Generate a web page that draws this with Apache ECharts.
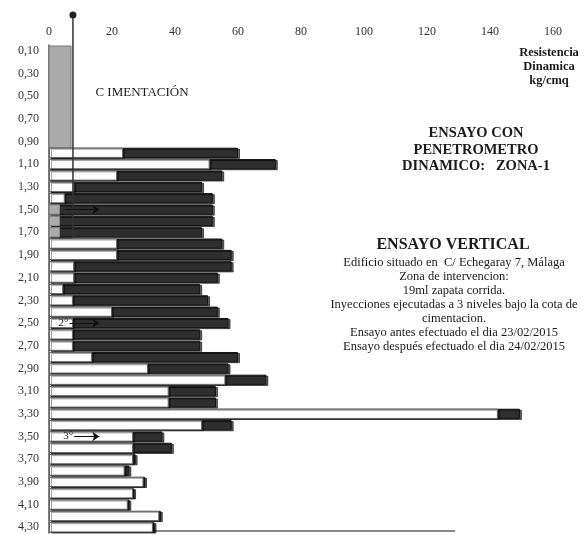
<!DOCTYPE html>
<html>
<head>
<meta charset="utf-8">
<script src="https://cdn.jsdelivr.net/npm/echarts@6/dist/echarts.min.js"></script>
<style>
  html, body { margin: 0; padding: 0; background: #fff; }
  #chart { width: 585px; height: 535px; }
</style>
</head>
<body>
<div id="chart"></div>
<script>
"use strict";

// depth (m) every 0.10, labels shown every other one
var depths = ['0,10', '0,20', '0,30', '0,40', '0,50', '0,60', '0,70', '0,80', '0,90',
  '1,00', '1,10', '1,20', '1,30', '1,40', '1,50', '1,60', '1,70', '1,80', '1,90',
  '2,00', '2,10', '2,20', '2,30', '2,40', '2,50', '2,60', '2,70', '2,80', '2,90',
  '3,00', '3,10', '3,20', '3,30', '3,40', '3,50', '3,60', '3,70', '3,80', '3,90',
  '4,00', '4,10', '4,20', '4,30'];

var xTicks = [0, 20, 40, 60, 80, 100, 120, 140, 160];

// ensayo antes (white bars)
var antes = [null, null, null, null, null, null, null, null, null,
  23.5, 51, 21.6, 8, 5, 3.5, 3.5, 3.5, 21.6, 21.6,
  8, 8, 4.5, 7.6, 20, 7.6, 7.6, 7.6, 13.7, 31.4,
  56, 38, 38, 142.5, 48.6, 26.7, 26.7, 26.7, 24, 30,
  26.7, 25, 35, 33];

// ensayo despues (dark bars)
var despues = [null, null, null, null, null, null, null, null, null,
  60, 72, 55, 48.6, 52, 52, 52, 48.6, 55, 58,
  58, 53.6, 48, 50.5, 53.6, 57, 48, 48, 60, 57,
  69, 53, 53, 149.5, 58, 36, 39, 27.5, 25.5, 30.5,
  27, 25.5, 35.5, 33.5];

// cimentacion block: width, first row, last row
var cimentacion = [[7, 0, 16]];
var pilar = [[7.6, 16]];

// injection levels: label, row, from, to
var niveles = [['', '1,50', 5, 16], ['2°', '2,50', 6.5, 16], ['3°', '3,50', 8, 16]];

var serif = 'Liberation Serif';

var chart = echarts.init(document.getElementById('chart'));

var arrows = niveles.map(function(n) {
  return [
    { coord: [n[2], n[1]], label: { show: n[0] !== '', formatter: n[0] } },
    { coord: [n[3], n[1]] }
  ];
});

// small "antes" bars inside the cimentacion block look grey
var antesData = antes.map(function(v, i) {
  var c = cimentacion[0];
  if (v !== null && i >= c[1] && i <= c[2] && v < 4) {
    return { value: v, itemStyle: { color: '#ababab', borderColor: '#888', shadowColor: 'transparent' } };
  }
  return v;
});

var centered = { textAlign: 'center', textVerticalAlign: 'middle', align: 'center', verticalAlign: 'middle', fill: '#1a1a1a' };
var textStyle = function(extra) {
  return Object.assign({}, centered, extra);
};

var option = {
  animation: false,
  grid: { left: 49, right: 32, top: 45, bottom: 2 },
  xAxis: {
    type: 'value',
    position: 'top',
    min: xTicks[0],
    max: xTicks[xTicks.length - 1],
    interval: 20,
    axisLine: { show: false },
    axisTick: { show: false },
    splitLine: { show: false },
    axisLabel: { margin: 7, color: '#333', fontFamily: serif, fontSize: 12 }
  },
  yAxis: {
    type: 'category',
    inverse: true,
    data: depths,
    axisLine: { show: true, lineStyle: { color: '#555', width: 1.5 } },
    axisTick: { show: false },
    axisLabel: { interval: 1, margin: 10, color: '#333', fontFamily: serif, fontSize: 12 }
  },
  series: [
    {
      type: 'custom',
      z: 1,
      encode: { x: 0, y: 1 },
      data: cimentacion,
      renderItem: function(params, api) {
        var a = api.coord([0, api.value(1)]);
        var b = api.coord([api.value(0), api.value(2)]);
        var band = api.size([0, 1])[1];
        return {
          type: 'rect',
          shape: { x: a[0], y: a[1] - band / 2 + 1, width: b[0] - a[0], height: b[1] - a[1] + band },
          style: { fill: '#ababab', stroke: '#777', lineWidth: 1 }
        };
      }
    },
    {
      name: 'Despues',
      type: 'bar',
      z: 2,
      data: despues,
      barGap: '-100%',
      barCategoryGap: '10%',
      itemStyle: {
        color: '#2e2e2e',
        borderColor: '#151515',
        borderWidth: 1,
        shadowColor: 'rgba(0,0,0,0.6)',
        shadowOffsetX: 2,
        shadowOffsetY: 1
      }
    },
    {
      name: 'Antes',
      type: 'bar',
      z: 2,
      data: antesData,
      barGap: '-100%',
      barCategoryGap: '10%',
      itemStyle: {
        color: '#fdfdfd',
        borderColor: '#666',
        borderWidth: 1,
        shadowColor: 'rgba(0,0,0,0.35)',
        shadowOffsetX: 2,
        shadowOffsetY: 1
      },
      markLine: {
        silent: true,
        symbol: ['none', 'arrow'],
        symbolSize: 7,
        lineStyle: { color: '#111', width: 1, type: 'solid' },
        label: { position: 'start', distance: 1, color: '#222', fontFamily: serif, fontSize: 11 },
        data: arrows
      }
    },
    {
      type: 'custom',
      z: 3,
      encode: { x: 0, y: 1 },
      data: pilar,
      renderItem: function(params, api) {
        var p = api.coord([api.value(0), api.value(1)]);
        var band = api.size([0, 1])[1];
        var top = params.coordSys.y - 30;
        return {
          type: 'group',
          children: [
            { type: 'line', shape: { x1: p[0], y1: top, x2: p[0], y2: p[1] + band / 2 },
              style: { stroke: '#333', lineWidth: 1.5 } },
            { type: 'circle', shape: { cx: p[0], cy: top, r: 3.5 }, style: { fill: '#222' } }
          ]
        };
      }
    }
  ],
  graphic: [
    { type: 'line', shape: { x1: 49, y1: 531, x2: 455, y2: 531 }, style: { stroke: '#888', lineWidth: 2 } },
    { type: 'text', x: 142, y: 93, style: textStyle({ text: 'C IMENTACIÓN', font: '13px ' + serif }) },
    { type: 'text', x: 549, y: 67, style: textStyle({ text: 'Resistencia\nDinamica\nkg/cmq',
      font: 'bold 12.5px ' + serif, lineHeight: 14 }) },
    { type: 'text', x: 476, y: 150, style: textStyle({ text: 'ENSAYO CON\nPENETROMETRO\nDINAMICO:   ZONA-1',
      font: 'bold 14.5px ' + serif, lineHeight: 16.5 }) },
    { type: 'text', x: 453, y: 245, style: textStyle({ text: 'ENSAYO VERTICAL', font: 'bold 16px ' + serif }) },
    { type: 'text', x: 454, y: 305, style: textStyle({
      text: 'Edificio situado en  C/ Echegaray 7, Málaga\nZona de intervencion:\n19ml zapata corrida.\nInyecciones ejecutadas a 3 niveles bajo la cota de\ncimentacion.\nEnsayo antes efectuado el dia 23/02/2015\nEnsayo después efectuado el dia 24/02/2015',
      font: '12.5px ' + serif, lineHeight: 14 }) }
  ]
};

chart.setOption(option);
</script>
</body>
</html>
